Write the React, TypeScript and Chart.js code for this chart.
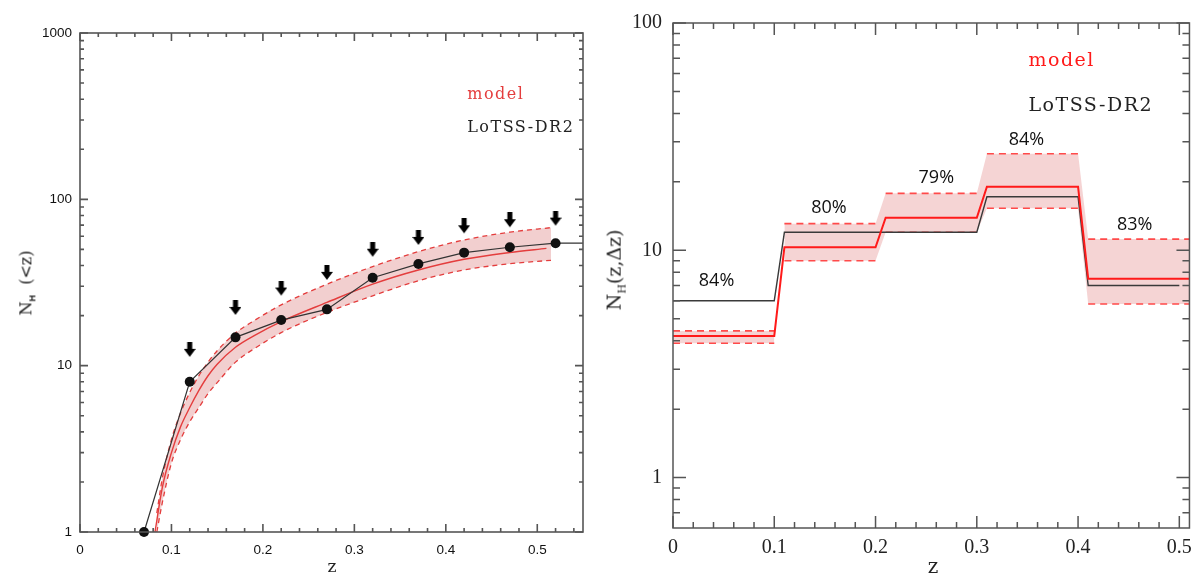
import { useEffect, useRef } from 'react';
import { Chart, registerables } from 'chart.js';

Chart.register(...registerables);

// ---- left panel: cumulative N_H(<z) ----
const lotssZ = [0.07, 0.12, 0.17, 0.22, 0.27, 0.32, 0.37, 0.42, 0.47, 0.52, 0.55];
const lotssN = [1, 8, 14.8, 18.8, 21.8, 33.8, 40.9, 47.8, 51.5, 54.5, 54.5];
const limitZ = [0.12, 0.17, 0.22, 0.27, 0.32, 0.37, 0.42, 0.47, 0.52];
const limitN = [11.3, 20.2, 26.4, 32.8, 45.2, 53.2, 62.5, 68, 69.5];
const modelZ = [0.082, 0.09, 0.1, 0.11, 0.12, 0.13, 0.14, 0.15, 0.17, 0.19, 0.22, 0.27, 0.32, 0.37, 0.42, 0.47, 0.51];
const modelN = [1, 1.85, 3.0, 4.3, 5.6, 7.1, 8.7, 10.2, 12.9, 15.1, 18.4, 24, 30.9, 37.6, 43.6, 47.9, 50.7];
const bandZ = [0.084, 0.09, 0.1, 0.11, 0.12, 0.13, 0.14, 0.15, 0.17, 0.19, 0.22, 0.27, 0.32, 0.37, 0.42, 0.47, 0.515];
const bandHiN = [1.3, 2.1, 3.6, 5.2, 6.9, 8.7, 10.5, 12.3, 15.7, 18.6, 23.2, 30.9, 39.4, 48.5, 57, 63.5, 67.6];
const bandLoN = [1.0, 1.5, 2.6, 3.6, 4.6, 5.6, 6.8, 7.9, 10.5, 12.6, 15.8, 20.9, 26.3, 32.4, 37.6, 41, 43];
const leftXTicks = [0, 0.1, 0.2, 0.3, 0.4, 0.5];
const leftXLabels = ['0', '0.1', '0.2', '0.3', '0.4', '0.5'];
const leftYTicks = [1, 10, 100, 1000];
const leftYLabels = ['1', '10', '100', '1000'];

// ---- right panel: N_H(z, dz) per bin ----
const stepZ = [0, 0.1, 0.11, 0.2, 0.21, 0.3, 0.31, 0.4, 0.41, 0.51];
const lotssStepZ = [0, 0.1, 0.11, 0.2, 0.21, 0.3, 0.31, 0.4, 0.41, 0.5];
const lotssStepN = [6.0, 6.0, 12.0, 12.0, 12.0, 12.0, 17.2, 17.2, 7.0, 7.0];
const modelStepN = [4.2, 4.2, 10.3, 10.3, 13.9, 13.9, 19.05, 19.05, 7.5, 7.5];
const modelStepHi = [4.42, 4.42, 13.1, 13.1, 17.8, 17.8, 26.6, 26.6, 11.2, 11.2];
const modelStepLo = [3.9, 3.9, 9.0, 9.0, 12.0, 12.0, 15.3, 15.3, 5.8, 5.8];
const pctZ = [0.043, 0.154, 0.26, 0.349, 0.456];
const pctN = [7.3, 15.4, 20.9, 30.6, 13.0];
const pctText = ['84%', '80%', '79%', '84%', '83%'];
const rightXTicks = [0, 0.1, 0.2, 0.3, 0.4, 0.5];
const rightXLabels = ['0', '0.1', '0.2', '0.3', '0.4', '0.5'];
const rightYTicks = [1, 10, 100];
const rightYLabels = ['1', '10', '100'];

const pts = (xs: number[], ys: number[]) => xs.map((x, i) => ({ x, y: ys[i] }));

// dashed bin segments: break the line between bins
const binSegments = (xs: number[], ys: number[]) => {
  const out: { x: number; y: number | null }[] = [];
  for (let i = 0; i < xs.length; i += 2) {
    if (i > 0) out.push({ x: (xs[i - 1] + xs[i]) / 2, y: null });
    out.push({ x: xs[i], y: ys[i] }, { x: xs[i + 1], y: ys[i + 1] });
  }
  return out;
};

// shaded band: first bin stands alone, the rest joined by slanted edges
const bandSeries = (xs: number[], ys: number[]) => {
  const out: { x: number; y: number | null }[] = pts(xs, ys);
  out.splice(2, 0, { x: (xs[1] + xs[2]) / 2, y: null });
  return out;
};

const minorLinear = (step: number, max: number, major: number) => {
  const out: number[] = [];
  for (let v = step; v < max - 1e-9; v += step) {
    if (Math.abs(v / major - Math.round(v / major)) > 1e-6) out.push(v);
  }
  return out;
};

const minorLog = (decades: number[], min: number, max: number) => {
  const out: number[] = [];
  decades.forEach(d => {
    for (let k = 2; k <= 9; k++) {
      const v = d * k;
      if (v > min && v < max) out.push(v);
    }
  });
  return out;
};

function makeArrow() {
  const c = document.createElement('canvas');
  c.width = 12;
  c.height = 30;
  const g = c.getContext('2d')!;
  g.fillStyle = '#000';
  g.fillRect(3.5, 0, 5, 8);
  g.beginPath();
  g.moveTo(0, 7);
  g.lineTo(12, 7);
  g.lineTo(6, 15);
  g.closePath();
  g.fill();
  return c;
}

function framePlugin(cfg: any) {
  return {
    id: 'frameTicks',
    afterDatasetsDraw(chart: any) {
      const { ctx, chartArea: a } = chart;
      const xs = chart.scales.x;
      const ys = chart.scales.y;
      ctx.save();
      ctx.strokeStyle = cfg.color;
      ctx.lineWidth = cfg.width;
      ctx.beginPath();
      const vx = (v: number, len: number) => {
        const p = xs.getPixelForValue(v);
        ctx.moveTo(p, a.bottom);
        ctx.lineTo(p, a.bottom - len);
        ctx.moveTo(p, a.top);
        ctx.lineTo(p, a.top + len);
      };
      const vy = (v: number, len: number) => {
        const p = ys.getPixelForValue(v);
        ctx.moveTo(a.left, p);
        ctx.lineTo(a.left + len, p);
        ctx.moveTo(a.right, p);
        ctx.lineTo(a.right - len, p);
      };
      cfg.xMajor.forEach((v: number) => vx(v, cfg.xMajorLen));
      cfg.xMinor.forEach((v: number) => vx(v, cfg.xMinorLen));
      cfg.yMajor.forEach((v: number) => vy(v, cfg.yMajorLen));
      cfg.yMinor.forEach((v: number) => vy(v, cfg.yMinorLen));
      ctx.stroke();
      ctx.strokeRect(a.left, a.top, a.right - a.left, a.bottom - a.top);
      ctx.restore();
    },
  };
}

function labelPlugin(items: any[]) {
  return {
    id: 'textLabels',
    afterDatasetsDraw(chart: any) {
      const { ctx } = chart;
      const xs = chart.scales.x;
      const ys = chart.scales.y;
      ctx.save();
      items.forEach(it => {
        ctx.font = it.font;
        ctx.fillStyle = it.color;
        ctx.textAlign = it.align || 'center';
        ctx.textBaseline = 'middle';
        ctx.letterSpacing = it.spacing || '0px';
        ctx.fillText(it.text, xs.getPixelForValue(it.x), ys.getPixelForValue(it.y));
      });
      ctx.restore();
    },
  };
}

function LeftPanel() {
  const chartRef = useRef<HTMLCanvasElement>(null);
  const chartInstance = useRef<Chart | null>(null);

  useEffect(() => {
    if (!chartRef.current) return;
    if (chartInstance.current) chartInstance.current.destroy();
    const ctx = chartRef.current.getContext('2d');
    if (!ctx) return;

    const red = '#e43d3d';
    chartInstance.current = new Chart(ctx, {
      type: 'line',
      data: {
        datasets: [
          {
            label: 'LoTSS-DR2',
            data: pts(lotssZ, lotssN),
            borderColor: '#333',
            borderWidth: 1.2,
            pointRadius: lotssZ.map((_, i) => (i < lotssZ.length - 1 ? 5 : 0)),
            pointBackgroundColor: '#111',
            pointBorderWidth: 0,
            clip: false,
          } as any,
          {
            label: 'limits',
            data: pts(limitZ, limitN),
            showLine: false,
            pointStyle: makeArrow(),
          },
          {
            label: 'model',
            data: pts(modelZ, modelN),
            borderColor: red,
            borderWidth: 1.4,
            pointRadius: 0,
            cubicInterpolationMode: 'monotone',
          },
          {
            label: 'model hi',
            data: pts(bandZ, bandHiN),
            borderColor: red,
            borderWidth: 1.3,
            borderDash: [5, 4],
            pointRadius: 0,
            cubicInterpolationMode: 'monotone',
            fill: false,
          },
          {
            label: 'model lo',
            data: pts(bandZ, bandLoN),
            borderColor: red,
            borderWidth: 1.3,
            borderDash: [5, 4],
            pointRadius: 0,
            cubicInterpolationMode: 'monotone',
            fill: '-1',
            backgroundColor: 'rgba(215, 110, 110, 0.33)',
          },
        ],
      },
      options: {
        responsive: false,
        animation: false,
        events: [],
        layout: { padding: { left: 0, top: 33, right: 17, bottom: 0 } },
        plugins: { legend: { display: false }, tooltip: { enabled: false } },
        scales: {
          x: {
            type: 'linear',
            min: 0,
            max: 0.55,
            afterFit: (s: any) => { s.height = 45; },
            afterBuildTicks: (s: any) => { s.ticks = leftXTicks.map(v => ({ value: v })); },
            grid: { display: false, drawTicks: false },
            border: { display: false },
            ticks: {
              padding: 10,
              maxRotation: 0,
              autoSkip: false,
              color: '#111',
              font: { family: 'Liberation Sans', size: 13.5 },
              callback: (_v: any, i: number) => leftXLabels[i],
            },
          },
          y: {
            type: 'logarithmic',
            min: 1,
            max: 1000,
            afterFit: (s: any) => { s.width = 80; },
            afterBuildTicks: (s: any) => { s.ticks = leftYTicks.map(v => ({ value: v })); },
            grid: { display: false, drawTicks: false },
            border: { display: false },
            ticks: {
              padding: 8,
              autoSkip: false,
              color: '#111',
              font: { family: 'Liberation Sans', size: 13.5 },
              callback: (_v: any, i: number) => leftYLabels[i],
            },
          },
        },
      },
      plugins: [
        framePlugin({
          color: '#555',
          width: 1.6,
          xMajor: leftXTicks,
          xMinor: minorLinear(0.02, 0.55, 0.1),
          yMajor: leftYTicks,
          yMinor: minorLog([1, 10, 100], 1, 1000),
          xMajorLen: 8,
          xMinorLen: 4,
          yMajorLen: 8,
          yMinorLen: 4,
        }),
        labelPlugin([
          { text: 'model', x: 0.4234, y: 424, color: red, align: 'left', font: '16px "DejaVu Serif"', spacing: '1.5px' },
          { text: 'LoTSS-DR2', x: 0.4234, y: 269, color: '#222', align: 'left', font: '16px "DejaVu Serif"', spacing: '1.5px' },
        ]),
      ],
    } as any);

    return () => {
      if (chartInstance.current) {
        chartInstance.current.destroy();
        chartInstance.current = null;
      }
    };
  }, []);

  return <canvas ref={chartRef} width={600} height={577} style={{ position: 'absolute', left: 0, top: 0 }} />;
}

function RightPanel() {
  const chartRef = useRef<HTMLCanvasElement>(null);
  const chartInstance = useRef<Chart | null>(null);

  useEffect(() => {
    if (!chartRef.current) return;
    if (chartInstance.current) chartInstance.current.destroy();
    const ctx = chartRef.current.getContext('2d');
    if (!ctx) return;

    const red = '#ff1a1a';
    const dashRed = '#ff4a4a';
    chartInstance.current = new Chart(ctx, {
      type: 'line',
      data: {
        datasets: [
          {
            label: 'model',
            data: pts(stepZ, modelStepN),
            borderColor: red,
            borderWidth: 2,
            pointRadius: 0,
          },
          {
            label: 'LoTSS-DR2',
            data: pts(lotssStepZ, lotssStepN),
            borderColor: '#3a3a3a',
            borderWidth: 1.4,
            pointRadius: 0,
          },
          {
            label: 'hi dashed',
            data: binSegments(stepZ, modelStepHi),
            borderColor: dashRed,
            borderWidth: 1.6,
            borderDash: [7, 5],
            pointRadius: 0,
            spanGaps: false,
          },
          {
            label: 'lo dashed',
            data: binSegments(stepZ, modelStepLo),
            borderColor: dashRed,
            borderWidth: 1.6,
            borderDash: [7, 5],
            pointRadius: 0,
            spanGaps: false,
          },
          {
            label: 'band hi',
            data: bandSeries(stepZ, modelStepHi),
            borderWidth: 0,
            borderColor: 'rgba(0,0,0,0)',
            pointRadius: 0,
            spanGaps: false,
            fill: false,
          },
          {
            label: 'band lo',
            data: bandSeries(stepZ, modelStepLo),
            borderWidth: 0,
            borderColor: 'rgba(0,0,0,0)',
            pointRadius: 0,
            spanGaps: false,
            fill: '-1',
            backgroundColor: 'rgba(225, 120, 120, 0.32)',
          },
        ],
      },
      options: {
        responsive: false,
        animation: false,
        events: [],
        layout: { padding: { left: 0, top: 13, right: 9, bottom: 0 } },
        plugins: { legend: { display: false }, tooltip: { enabled: false } },
        scales: {
          x: {
            type: 'linear',
            min: 0,
            max: 0.51,
            afterFit: (s: any) => { s.height = 49; },
            afterBuildTicks: (s: any) => { s.ticks = rightXTicks.map(v => ({ value: v })); },
            grid: { display: false, drawTicks: false },
            border: { display: false },
            ticks: {
              padding: 8,
              maxRotation: 0,
              autoSkip: false,
              color: '#222',
              font: { family: 'Liberation Serif', size: 20 },
              callback: (_v: any, i: number) => rightXLabels[i],
            },
          },
          y: {
            type: 'logarithmic',
            min: 0.64,
            max: 100,
            afterFit: (s: any) => { s.width = 73; },
            afterBuildTicks: (s: any) => { s.ticks = rightYTicks.map(v => ({ value: v })); },
            grid: { display: false, drawTicks: false },
            border: { display: false },
            ticks: {
              padding: 11,
              autoSkip: false,
              color: '#222',
              font: { family: 'Liberation Serif', size: 20 },
              callback: (_v: any, i: number) => rightYLabels[i],
            },
          },
        },
      },
      plugins: [
        framePlugin({
          color: '#555',
          width: 1.5,
          xMajor: rightXTicks,
          xMinor: minorLinear(0.02, 0.51, 0.1),
          yMajor: rightYTicks,
          yMinor: minorLog([0.1, 1, 10], 0.64, 100),
          xMajorLen: 12,
          xMinorLen: 6,
          yMajorLen: 13,
          yMinorLen: 7,
        }),
        labelPlugin([
          ...pctText.map((t, i) => ({ text: t, x: pctZ[i], y: pctN[i], color: '#111', font: '18px "Open Sans"' })),
          { text: 'model', x: 0.351, y: 68.1, color: '#ff1a1a', align: 'left', font: '19px "DejaVu Serif"', spacing: '1.5px' },
          { text: 'LoTSS-DR2', x: 0.351, y: 42.9, color: '#222', align: 'left', font: '19px "DejaVu Serif"', spacing: '1.5px' },
        ]),
      ],
    } as any);

    return () => {
      if (chartInstance.current) {
        chartInstance.current.destroy();
        chartInstance.current = null;
      }
    };
  }, []);

  return <canvas ref={chartRef} width={600} height={577} style={{ position: 'absolute', left: 600, top: 0 }} />;
}

const titleBase: React.CSSProperties = {
  position: 'absolute',
  whiteSpace: 'nowrap',
  color: '#222',
  fontFamily: '"DejaVu Serif"',
  lineHeight: 1,
};

export default function App() {
  return (
    <div style={{ position: 'fixed', left: 0, top: 0, width: 1200, height: 577, background: '#fff', overflow: 'hidden' }}>
      <LeftPanel />
      <RightPanel />
      <div style={{ ...titleBase, fontSize: 16, left: 28, top: 283, transform: 'translate(-50%, -50%) rotate(-90deg)' }}>
        N<sub style={{ fontSize: 9, fontFamily: '"Liberation Sans"', fontWeight: 'bold' }}>H</sub>{'\u00a0\u00a0(<z)'}
      </div>
      <div style={{ ...titleBase, fontSize: 17, left: 332, top: 566, transform: 'translate(-50%, -50%)' }}>z</div>
      <div style={{ ...titleBase, fontSize: 19, left: 616, top: 270, transform: 'translate(-50%, -50%) rotate(-90deg)' }}>
        N<sub style={{ fontSize: 11 }}>H</sub>(z,Δz)
      </div>
      <div style={{ ...titleBase, fontSize: 20, left: 933, top: 566, transform: 'translate(-50%, -50%)' }}>z</div>
    </div>
  );
}
